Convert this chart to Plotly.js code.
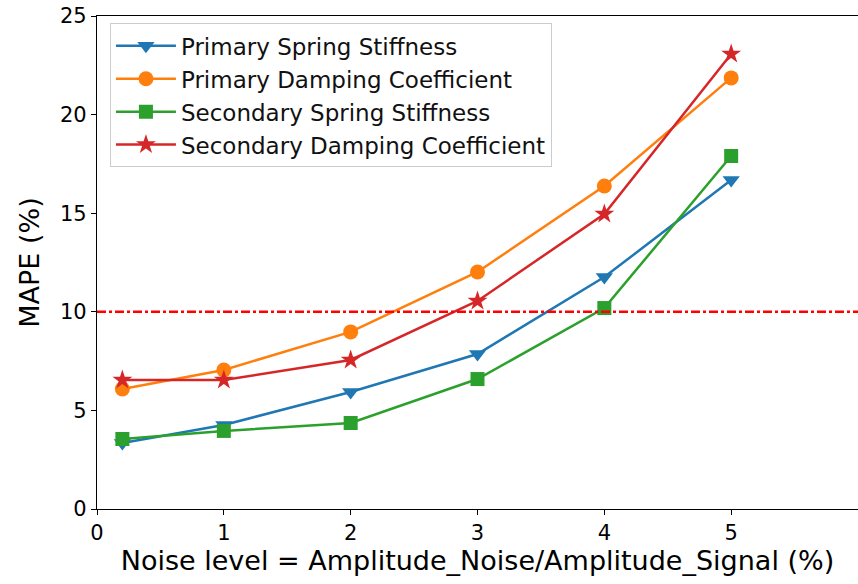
<!DOCTYPE html>
<html><head><meta charset="utf-8">
<script src="https://cdn.plot.ly/plotly-3.0.1.min.js"></script>
<style>html,body{margin:0;padding:0;background:#fff}#chart{width:858px;height:584px}</style>
</head><body><div id="chart"></div>
<script>
const noiseLevels = [0.2, 1, 2, 3, 4, 5];
const primarySpring = [3.35, 4.26, 5.93, 7.86, 11.76, 16.68];
const primaryDamping = [6.09, 7.05, 8.98, 12.02, 16.38, 21.86];
const secondarySpring = [3.55, 3.96, 4.36, 6.59, 10.19, 17.9];
const secondaryDamping = [6.54, 6.54, 7.56, 10.55, 14.96, 23.07];
const threshold = 10;
const seriesNames = ['Primary Spring Stiffness','Primary Damping Coefficient','Secondary Spring Stiffness','Secondary Damping Coefficient'];

const colors = ['#1f77b4','#ff7f0e','#2ca02c','#d62728'];
const symbols = ['triangle-down','circle','square','star'];
const sizes = [15,15,14,15];
const allY = [primarySpring, primaryDamping, secondarySpring, secondaryDamping];
const traces = allY.map((y,i)=>({
  x: noiseLevels, y: y, name: seriesNames[i], type:'scatter', mode:'lines+markers',
  legendgroup: 'g'+i,
  line:{color:colors[i], width:2.5},
  marker:{symbol:symbols[i], size:sizes[i], color:colors[i]}
}));

const layout = {
  width:858, height:584,
  margin:{l:97, r:0, t:16, b:75},
  paper_bgcolor:'#fff', plot_bgcolor:'#fff',
  font:{family:'DejaVu Sans', color:'#000'},
  showlegend:true,
  legend:{x:0.017, y:0.985, xanchor:'left', yanchor:'top', bgcolor:'rgba(255,255,255,0.8)',
    bordercolor:'#cccccc', borderwidth:1, font:{size:23, family:'DejaVu Sans', color:'#111'},
    tracegroupgap:0, itemwidth:60},
  xaxis:{range:[0,6], tickvals:[0,1,2,3,4,5,6], showgrid:false, zeroline:false,
    showline:true, linecolor:'#000', linewidth:1.2, mirror:true, ticks:'outside', ticklen:5, tickcolor:'#000',
    tickfont:{size:21}, title:{text:'Noise level = Amplitude_Noise/Amplitude_Signal (%)', font:{size:27}, standoff:3}},
  yaxis:{range:[0,25], tickvals:[0,5,10,15,20,25], showgrid:false, zeroline:false,
    showline:true, linecolor:'#000', linewidth:1.2, mirror:true, ticks:'outside', ticklen:5, tickcolor:'#000',
    tickfont:{size:21}, title:{text:'MAPE (%)', font:{size:27}, standoff:12}},
  shapes:[{type:'line', xref:'paper', x0:0, x1:1, yref:'y', y0:threshold, y1:threshold,
    line:{color:'#ff0000', width:2.5, dash:'dashdot'}}]
};
Plotly.newPlot('chart', traces, layout, {displayModeBar:false});
</script></body></html>
